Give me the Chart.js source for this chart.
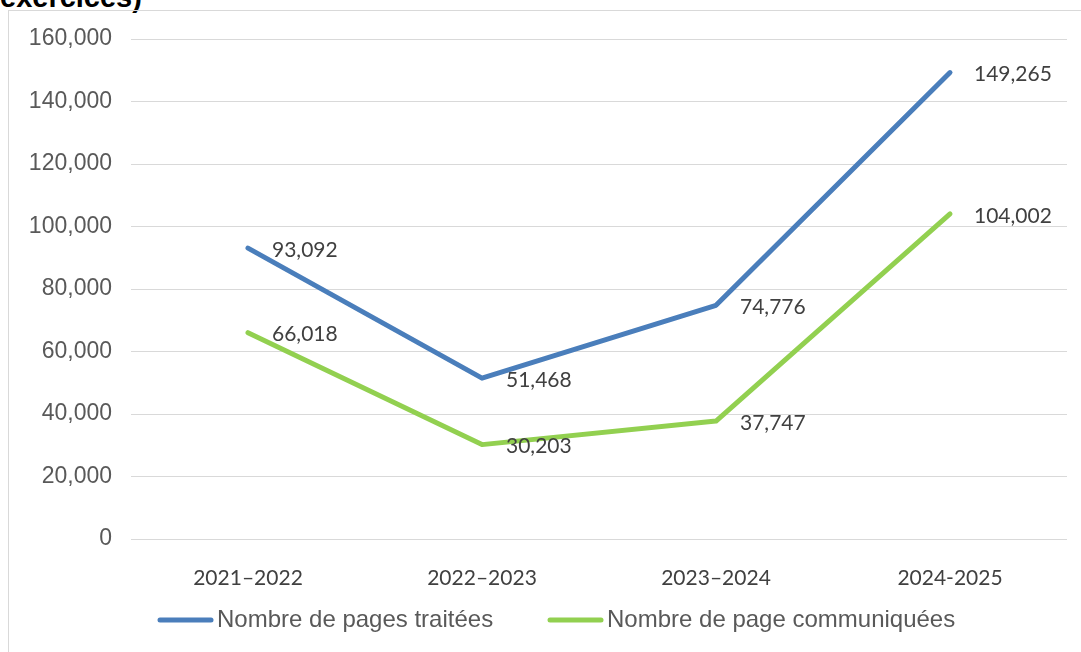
<!DOCTYPE html>
<html>
<head>
<meta charset="utf-8">
<script src="https://cdn.jsdelivr.net/npm/chart.js@4"></script>
<style>
  html, body { margin: 0; padding: 0; background: #ffffff; width: 1081px; height: 652px; overflow: hidden; }
  #frame { position: absolute; left: 8px; top: 10px; width: 1200px; height: 700px; border-left: 1px solid #d9d9d9; border-top: 1px solid #d9d9d9; }
  #title { position: absolute; left: 0px; top: -19px; font: bold 29px "Liberation Sans", Arial, sans-serif; line-height: 32px; color: #000; white-space: nowrap; }
  #wrap { position: absolute; left: 0; top: 0; width: 1081px; height: 652px; }
</style>
</head>
<body>
<div id="title">exercices)</div>
<div id="frame"></div>
<div id="wrap"><canvas id="c" width="1081" height="652"></canvas></div>
<script>
const categories = ["2021–2022", "2022–2023", "2023–2024", "2024-2025"];
const pagesTraitees = [93092, 51468, 74776, 149265];
const pagesCommuniquees = [66018, 30203, 37747, 104002];
const seriesNames = ["Nombre de pages traitées", "Nombre de page communiquées"];
const seriesColors = ["#4A7EBB", "#92D050"];
const yMax = 160000;
const yStep = 20000;

const fmt = v => v.toLocaleString("en-US");

const dataLabels = {
  id: "dataLabels",
  afterDatasetsDraw(chart) {
    const ctx = chart.ctx;
    ctx.save();
    ctx.font = '21px Lato, "Open Sans", sans-serif';
    ctx.fillStyle = "#404040";
    ctx.textAlign = "left";
    ctx.textBaseline = "middle";
    chart.data.datasets.forEach((ds, i) => {
      const meta = chart.getDatasetMeta(i);
      meta.data.forEach((pt, j) => {
        ctx.fillText(fmt(ds.data[j]), pt.x + 24, pt.y + 2);
      });
    });
    ctx.restore();
  }
};

const customLegend = {
  id: "customLegend",
  afterDraw(chart) {
    const ctx = chart.ctx;
    ctx.save();
    ctx.font = '24px "Liberation Sans", Arial, sans-serif';
    ctx.textBaseline = "middle";
    ctx.textAlign = "left";
    const y = 620;
    const items = [{x: 158}, {x: 548}];
    chart.data.datasets.forEach((ds, i) => {
      const x0 = items[i].x;
      ctx.strokeStyle = ds.borderColor;
      ctx.lineWidth = 5;
      ctx.lineCap = "round";
      ctx.beginPath();
      ctx.moveTo(x0 + 2, y);
      ctx.lineTo(x0 + 53, y);
      ctx.stroke();
      ctx.fillStyle = "#595959";
      ctx.fillText(ds.label, x0 + 59, y);
    });
    ctx.restore();
  }
};

new Chart(document.getElementById("c"), {
  type: "line",
  data: {
    labels: categories,
    datasets: [
      { label: seriesNames[0], data: pagesTraitees, borderColor: seriesColors[0], backgroundColor: seriesColors[0] },
      { label: seriesNames[1], data: pagesCommuniquees, borderColor: seriesColors[1], backgroundColor: seriesColors[1] }
    ]
  },
  options: {
    responsive: false,
    animation: false,
    layout: { padding: { left: 0, right: 14, top: 39, bottom: 0 } },
    elements: {
      line: { borderWidth: 5, tension: 0, borderCapStyle: "round", borderJoinStyle: "round" },
      point: { radius: 0, hoverRadius: 0 }
    },
    plugins: {
      legend: { display: false },
      tooltip: { enabled: false }
    },
    scales: {
      x: {
        offset: true,
        grid: { display: false },
        border: { display: false },
        ticks: { color: "#404040", font: { family: 'Lato, "Open Sans", sans-serif', size: 21 }, padding: 19, maxRotation: 0 },
        afterFit(scale) { scale.height = 113; }
      },
      y: {
        min: 0, max: yMax,
        grid: { color: "#d9d9d9", lineWidth: 1, drawTicks: false },
        border: { display: false },
        ticks: { stepSize: yStep, color: "#595959", font: { family: '"Liberation Sans", Arial, sans-serif', size: 23 }, padding: 19, callback: v => fmt(v) },
        afterFit(scale) { scale.width = 131; }
      }
    }
  },
  plugins: [dataLabels, customLegend]
});
</script>
</body>
</html>
